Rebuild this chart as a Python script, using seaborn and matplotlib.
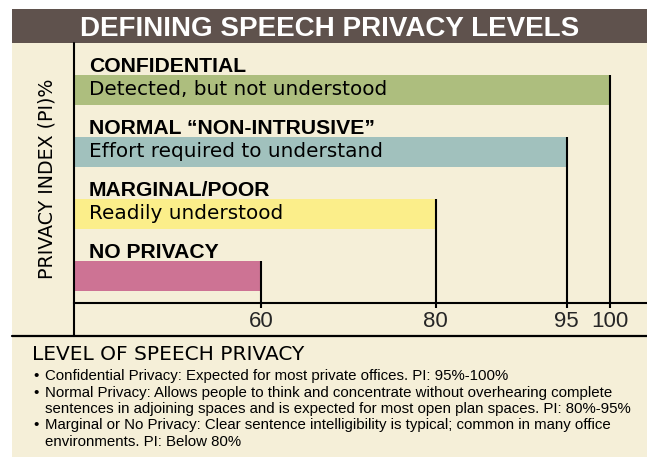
import matplotlib
matplotlib.use("Agg")
import matplotlib.pyplot as plt
import seaborn as sns
from matplotlib.patches import Rectangle
from matplotlib.lines import Line2D

# Data
levels = ["CONFIDENTIAL", "NORMAL \u201cNON-INTRUSIVE\u201d", "MARGINAL/POOR", "NO PRIVACY"]
descriptions = ["Detected, but not understood", "Effort required to understand",
                "Readily understood", ""]
privacy_index = [100, 95, 80, 60]
bar_colors = ["#adbe7e", "#a1c1bd", "#fbee8a", "#cd7394"]

title = "DEFINING SPEECH PRIVACY LEVELS"
ylabel = "PRIVACY INDEX (PI)%"
footer_heading = "LEVEL OF SPEECH PRIVACY"
footer_lines = [
    ("\u2022", "Confidential Privacy: Expected for most private offices. PI: 95%-100%"),
    ("\u2022", "Normal Privacy: Allows people to think and concentrate without overhearing complete"),
    ("", "sentences in adjoining spaces and is expected for most open plan spaces. PI: 80%-95%"),
    ("\u2022", "Marginal or No Privacy: Clear sentence intelligibility is typical; common in many office"),
    ("", "environments. PI: Below 80%"),
]

cream = "#f5efd8"
brown = "#5f524d"

W, H = 647, 457

sns.set_theme(style="white")
plt.rcParams["font.family"] = ["Liberation Sans", "DejaVu Sans"]

fig = plt.figure(figsize=(W / 100, H / 100), dpi=100, facecolor="white")

# background panel and title bar
fig.add_artist(Rectangle((12 / W, 0), 1 - 12 / W, 1 - 9 / H, transform=fig.transFigure,
                         facecolor=cream, edgecolor="none", zorder=0))
fig.add_artist(Rectangle((12 / W, 1 - 43 / H), 1 - 12 / W, 34 / H, transform=fig.transFigure,
                         facecolor=brown, edgecolor="none", zorder=1))
fig.text(329.5 / W, 1 - 36 / H, title, ha="center", va="baseline", color="white",
         fontsize=20, fontweight="bold", family="Liberation Sans")

ax = fig.add_axes([74 / W, 1 - 303 / H, 573 / W, 260 / H])
ax.patch.set_alpha(0)

sns.barplot(x=privacy_index, y=levels, hue=levels, palette=bar_colors, orient="h",
            width=0.484, saturation=1, legend=False, linewidth=0, ax=ax, zorder=2)

ax.set_xlim(38.6, 104.2)
ax.set_ylim(3.435, -0.758)

# end lines from each bar down to the axis
ax.vlines(privacy_index, [i - 0.242 for i in range(len(levels))], 3.435,
          color="black", linewidth=1.5, zorder=3)

ax.set_xticks(privacy_index)
ax.set_xticklabels([str(v) for v in privacy_index])
ax.tick_params(axis="x", bottom=True, length=3.6, width=1.5, color="black",
               pad=2, labelsize=16)
ax.set_yticks([])
ax.set_xlabel("")
ax.set_ylabel("")
for s in ["top", "right", "left"]:
    ax.spines[s].set_visible(False)
ax.spines["bottom"].set_color("black")
ax.spines["bottom"].set_linewidth(1.5)

tx = ax.get_yaxis_transform()
for i, (lvl, desc) in enumerate(zip(levels, descriptions)):
    ax.text(0.0262, i - 0.295, lvl, transform=tx, ha="left", va="baseline",
            fontsize=15.2, fontweight="bold", color="black", family="Liberation Sans")
    if desc:
        ax.text(0.0262, i + 0.081, desc, transform=tx, ha="left", va="baseline",
                fontsize=14.4, color="black", family="DejaVu Sans", zorder=4)

# left line and separator
fig.add_artist(Line2D([74 / W, 74 / W], [1 - 43 / H, 1 - 336 / H], color="black",
                      linewidth=1.5, transform=fig.transFigure))
fig.add_artist(Line2D([12 / W, 1], [1 - 336 / H, 1 - 336 / H], color="black",
                      linewidth=1.6, transform=fig.transFigure))

fig.text(47.5 / W, 1 - 179 / H, ylabel, rotation=90, ha="center", va="center",
         fontsize=13.7, color="black", family="DejaVu Sans")

# footer notes
fig.text(32 / W, 1 - 360 / H, footer_heading, ha="left", va="baseline",
         fontsize=14.5, color="black", family="DejaVu Sans")
for k, (bullet, line) in enumerate(footer_lines):
    yb = 1 - (380 + 16.5 * k) / H
    if bullet:
        fig.text(33 / W, yb, bullet, ha="left", va="baseline", fontsize=10.8,
                 color="black", family="Liberation Sans")
    fig.text(45 / W, yb, line, ha="left", va="baseline", fontsize=10.8,
             color="black", family="Liberation Sans")

fig.savefig("out.png", dpi=100, facecolor="white")
